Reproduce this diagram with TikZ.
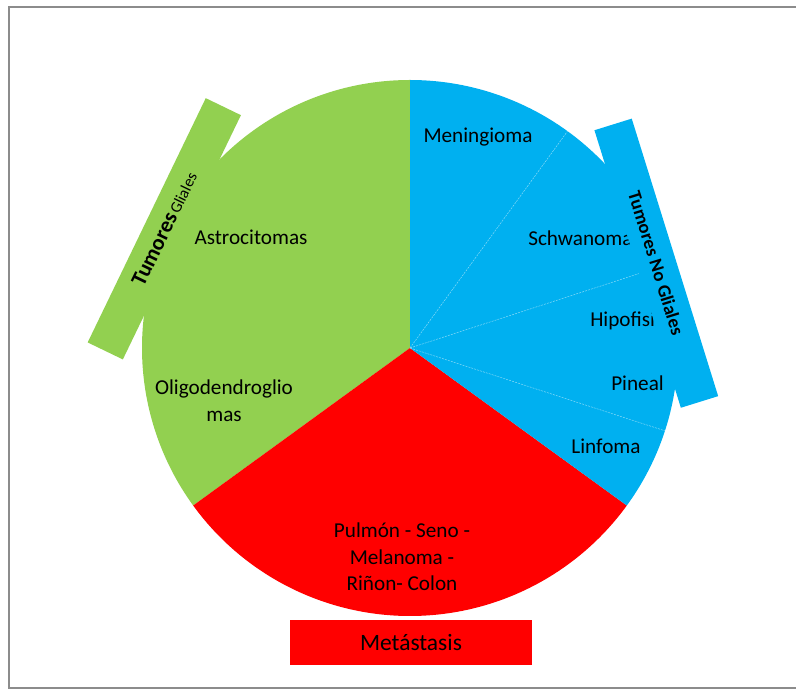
\documentclass[tikz,border=0pt]{standalone}
\usepackage{fontspec}
\setmainfont{Carlito}
\usepackage{tikz}
\usetikzlibrary{positioning, calc}

\definecolor{glialgreen}{HTML}{92D050}
\definecolor{noglialblue}{HTML}{00B0F0}
\definecolor{metared}{HTML}{FF0000}
\definecolor{framegray}{HTML}{8C8C8C}

\begin{document}
\begin{tikzpicture}[
  x=0.75pt, y=0.75pt,
  % Node styles
  slicelabel/.style={
    font=\fontsize{15.9}{20}\selectfont,
    align=center,
    inner sep=0pt,
  },
  sidebar/.style={
    rectangle,
    minimum width=#1,
    minimum height=29.3pt,
    inner sep=0pt,
  },
  divider/.style={
    white!55!noglialblue,
    line width=0.35pt,
    dash pattern=on 1.5pt off 0.8pt,
  },
]
\useasboundingbox (0,0) rectangle (796,689);

% ── Frame ──
\draw[framegray, line width=1.2pt] (796,682) -- (9,682) -- (9,1) -- (796,1);

% ── Pie ──
\coordinate (O) at (410,341);
\fill[glialgreen] (O) -- ++(90:268) arc[start angle=90, end angle=216, radius=268] -- cycle;
\fill[metared] (O) -- ++(216:268) arc[start angle=216, end angle=324, radius=268] -- cycle;
\fill[noglialblue] (O) -- ++(-36:268) arc[start angle=-36, end angle=90, radius=268] -- cycle;

% Blue sub-slices
\coordinate (d1) at ($(O)+(54:268)$);
\coordinate (d2) at ($(O)+(18:268)$);
\coordinate (d3) at ($(O)+(-18:268)$);
\draw[divider] (O) -- (d1);
\draw[divider] (O) -- (d2);
\draw[divider] (O) -- (d3);

% ── Slice labels ──
\node[slicelabel] (meningioma) at (478,552) {Meningioma};
\node[slicelabel, anchor=west] (schwanoma) at (528,451) {Schwanoma};
\node[slicelabel, anchor=west] (hipofisis) at (590,368) {Hipofisis};
\node[slicelabel, anchor=west] (pineal) at (611,306) {Pineal};
\node[slicelabel] (linfoma) at (606,243) {Linfoma};
\node[slicelabel] (astro) at (251,452) {Astrocitomas};
\node[slicelabel] (oligo) at (224,288) {Oligodendroglio\\mas};
\node[slicelabel] (metas) at (402,132) {Pulmón - Seno -\\Melanoma -\\Riñon- Colon};

% ── Side bars ──
\node[sidebar=203.5pt, fill=glialgreen, rotate=64.2] (glial) at (164.3,460.2)
  {{\bfseries\fontsize{16.5}{18}\selectfont Tumores}\,{\fontsize{12}{14}\selectfont Gliales}};
\node[sidebar=218pt, fill=noglialblue, rotate=-72.7] (noglial) at (656.3,425.8)
  {\bfseries\fontsize{14}{16}\selectfont Tumores No Gliales};

% ── Metástasis box ──
\node[rectangle, fill=metared, minimum width=181.5pt, minimum height=33.75pt,
  font=\fontsize{17.6}{20}\selectfont] (metabox) at (411,46.5) {Metástasis};

\end{tikzpicture}
\end{document}
